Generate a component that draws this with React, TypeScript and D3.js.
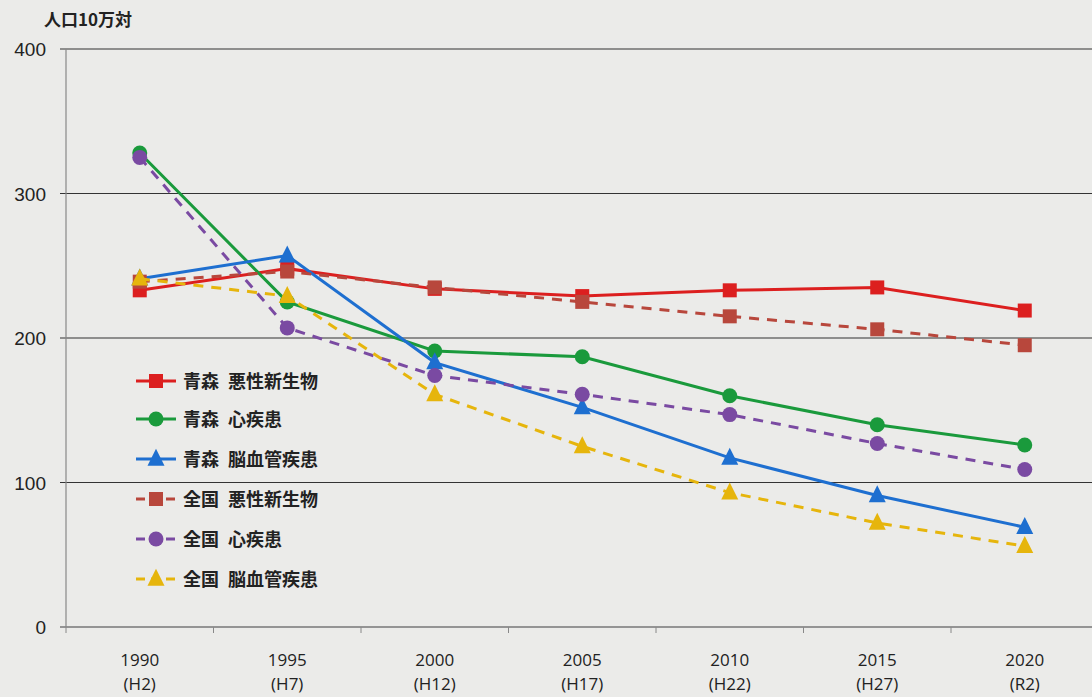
import React from "react";
import * as d3 from "d3";

const years = ["1990", "1995", "2000", "2005", "2010", "2015", "2020"];
const eras = ["(H2)", "(H7)", "(H12)", "(H17)", "(H22)", "(H27)", "(R2)"];
const yTicks = [0, 100, 200, 300, 400];

const aomoriCancer = [233, 248, 234, 229, 233, 235, 219];
const aomoriHeart = [328, 225, 191, 187, 160, 140, 126];
const aomoriStroke = [241, 257, 183, 152, 117, 91, 69];
const nationalCancer = [239, 246, 235, 225, 215, 206, 195];
const nationalHeart = [325, 207, 174, 161, 147, 127, 109];
const nationalStroke = [241, 229, 161, 125, 93, 72, 56];

const seriesNames = [
  "青森\u2002悪性新生物",
  "青森\u2002心疾患",
  "青森\u2002脳血管疾患",
  "全国\u2002悪性新生物",
  "全国\u2002心疾患",
  "全国\u2002脳血管疾患",
];

type S = { name: string; values: number[]; color: string; dashed: boolean; marker: string };

const series: S[] = [
  { name: seriesNames[0], values: aomoriCancer, color: "#dc1f1f", dashed: false, marker: "square" },
  { name: seriesNames[1], values: aomoriHeart, color: "#1a9a3c", dashed: false, marker: "circle" },
  { name: seriesNames[2], values: aomoriStroke, color: "#1e6fd0", dashed: false, marker: "triangle" },
  { name: seriesNames[3], values: nationalCancer, color: "#b8473c", dashed: true, marker: "square" },
  { name: seriesNames[4], values: nationalHeart, color: "#7a4aa2", dashed: true, marker: "circle" },
  { name: seriesNames[5], values: nationalStroke, color: "#e6b50c", dashed: true, marker: "triangle" },
];

const W = 1092;
const H = 697;
const left = 66;
const bandW = 147.5;

const x = d3
  .scaleBand<string>()
  .domain(years)
  .range([left, left + bandW * years.length]);
const y = d3.scaleLinear().domain([0, 400]).range([627, 49]);

function Marker({ type, cx, cy, color }: { type: string; cx: number; cy: number; color: string }) {
  if (type === "square") return <rect x={cx - 7} y={cy - 7} width={14} height={14} fill={color} />;
  if (type === "circle") return <circle cx={cx} cy={cy} r={7.5} fill={color} />;
  const s = 17;
  const tri = `M${cx},${cy - s * 0.6} L${cx + s / 2},${cy + s * 0.4} L${cx - s / 2},${cy + s * 0.4} Z`;
  return <path d={tri} fill={color} />;
}

export default function App() {
  const cx = (i: number) => (x(years[i]) as number) + x.bandwidth() / 2;
  const line = d3
    .line<number>()
    .x((_, i) => cx(i))
    .y((v) => y(v));
  const font = "'Noto Sans CJK JP', 'Noto Sans', sans-serif";
  const legendY = [381, 419, 459, 499, 539, 579];
  return (
    <svg width={W} height={H} style={{ position: "absolute", left: 0, top: 0, background: "#ebebe9" }}>
      <rect x={0} y={0} width={W} height={H} fill="#ebebe9" />
      <text x={44} y={26} fontFamily={font} fontSize={17} fontWeight={700} fill="#222">
        人口10万対
      </text>
      {yTicks.map((t) => (
        <g key={t}>
          <line x1={60} x2={W} y1={y(t)} y2={y(t)} stroke={t === 0 ? "#777" : "#333"} strokeWidth={t === 0 ? 1.5 : 1.2} />
          <text x={46} y={y(t) + 7} textAnchor="end" fontFamily="'Liberation Sans', Arial, sans-serif" fontSize={19} fill="#222">
            {t}
          </text>
        </g>
      ))}
      <line x1={left} x2={left} y1={y(400)} y2={y(0)} stroke="#888" strokeWidth={1.2} />
      {years.map((yr, i) => (
        <g key={yr}>
          <line x1={(x(yr) as number)} x2={(x(yr) as number)} y1={627} y2={633} stroke="#888" strokeWidth={1} />
          <text x={cx(i)} y={666} textAnchor="middle" fontFamily="'Open Sans', 'Noto Sans', sans-serif" fontSize={17} fill="#222">
            {yr}
          </text>
          <text x={cx(i)} y={690} textAnchor="middle" fontFamily="'Open Sans', 'Noto Sans', sans-serif" fontSize={17} fill="#222">
            {eras[i]}
          </text>
        </g>
      ))}
      {series.map((s) => (
        <g key={s.name}>
          <path
            d={line(s.values) || ""}
            fill="none"
            stroke={s.color}
            strokeWidth={3}
            strokeDasharray={s.dashed ? "10,8" : undefined}
          />
          {s.values.map((v, i) => (
            <Marker key={i} type={s.marker} cx={cx(i)} cy={y(v)} color={s.color} />
          ))}
        </g>
      ))}
      {series.map((s, i) => (
        <g key={"lg" + i}>
          <line
            x1={136}
            x2={176}
            y1={legendY[i]}
            y2={legendY[i]}
            stroke={s.color}
            strokeWidth={3}
            strokeDasharray={s.dashed ? "9,6" : undefined}
          />
          <Marker type={s.marker} cx={156} cy={legendY[i]} color={s.color} />
          <text x={183} y={legendY[i] + 6.5} fontFamily={font} fontSize={18} fontWeight={700} fill="#222">
            {s.name}
          </text>
        </g>
      ))}
    </svg>
  );
}
